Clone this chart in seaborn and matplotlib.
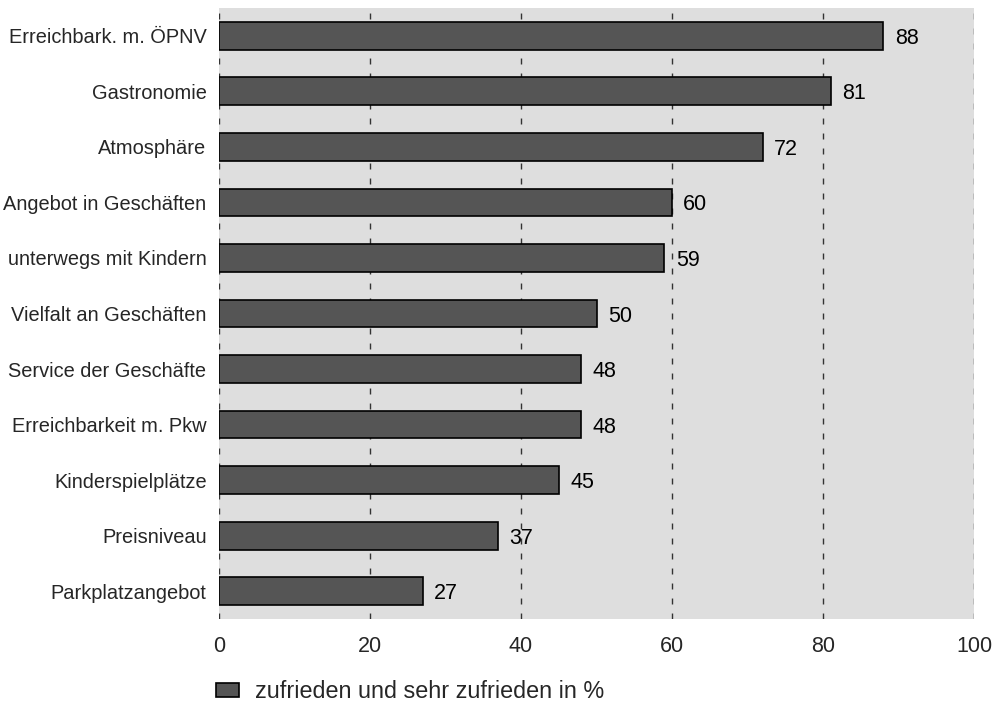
import matplotlib
matplotlib.use("Agg")
import matplotlib.pyplot as plt
import seaborn as sns
import pandas as pd
from matplotlib.patches import Patch

categories = ["Erreichbark. m. ÖPNV", "Gastronomie", "Atmosphäre", "Angebot in Geschäften",
              "unterwegs mit Kindern", "Vielfalt an Geschäften", "Service der Geschäfte",
              "Erreichbarkeit m. Pkw", "Kinderspielplätze", "Preisniveau", "Parkplatzangebot"]
values = [88, 81, 72, 60, 59, 50, 48, 48, 45, 37, 27]
xticks = [0, 20, 40, 60, 80, 100]
legend_label = "zufrieden und sehr zufrieden in %"

sns.set_theme(style="white")
plt.rcParams['font.family'] = ['Liberation Sans', 'DejaVu Sans']

df = pd.DataFrame({"cat": categories, "val": values})

fig = plt.figure(figsize=(9.94, 7.04), dpi=100)
ax = fig.add_axes([219/994, 1-619/704, (974-219)/994, (619-8)/704])
ax.set_facecolor("#dedede")

sns.barplot(data=df, x="val", y="cat", ax=ax, color="#555555", saturation=1,
            edgecolor="black", linewidth=1.2, width=0.5, orient="h")

for x in xticks:
    ax.axvline(x, color="#333333", linewidth=1, linestyle=(0, (4.3, 6.5)), zorder=0.5)

for i, v in enumerate(values):
    ax.text(v + 1.5, i, str(v), va="center_baseline", ha="left", fontsize=15.5, color="black")

ax.set_xlim(0, 100)
ax.set_ylim(len(categories) - 0.5, -0.5)
ax.set_xticks(xticks)
ax.set_xticklabels([str(t) for t in xticks], fontsize=15.5)
ax.tick_params(axis="x", length=0, pad=12)
ax.tick_params(axis="y", length=0, pad=9, labelsize=14.4)
ax.set_xlabel("")
ax.set_ylabel("")
for s in ax.spines.values():
    s.set_visible(False)
ax.set_axisbelow(True)

handle = Patch(facecolor="#555555", edgecolor="black", linewidth=1.2)
fig.legend([handle], [legend_label], loc="center left", bbox_to_anchor=(216/994, 1-692/704),
           frameon=False, fontsize=16.8, handlelength=1.0, handleheight=0.55,
           handletextpad=0.68, borderpad=0, borderaxespad=0)

fig.savefig("out.png", dpi=100)
